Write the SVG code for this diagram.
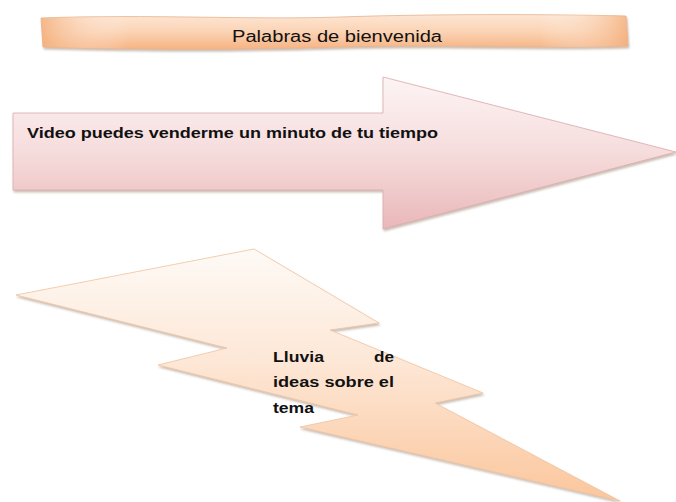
<svg xmlns="http://www.w3.org/2000/svg" width="676" height="502" viewBox="0 0 676 502">
<defs>
<linearGradient id="gBanner" x1="0" y1="0" x2="0" y2="1">
<stop offset="0" stop-color="#fde6d4"/>
<stop offset="0.5" stop-color="#fbd3b4"/>
<stop offset="1" stop-color="#f6b382"/>
</linearGradient>
<linearGradient id="gBannerH" x1="0" y1="0" x2="1" y2="0">
<stop offset="0" stop-color="#f4ad78" stop-opacity="0.8"/>
<stop offset="0.15" stop-color="#ffffff" stop-opacity="0"/>
<stop offset="0.85" stop-color="#ffffff" stop-opacity="0"/>
<stop offset="1" stop-color="#f4ad78" stop-opacity="0.8"/>
</linearGradient>
<linearGradient id="gArrow" x1="0" y1="0" x2="0" y2="1">
<stop offset="0" stop-color="#fdf4f4"/>
<stop offset="0.5" stop-color="#f6dcdc"/>
<stop offset="1" stop-color="#e9b7b9"/>
</linearGradient>
<linearGradient id="gBolt" x1="0" y1="0" x2="0" y2="1">
<stop offset="0" stop-color="#fefaf6"/>
<stop offset="0.45" stop-color="#fde7d6"/>
<stop offset="1" stop-color="#fbc69c"/>
</linearGradient>
<filter id="shadow" x="-10%" y="-10%" width="120%" height="130%">
<feDropShadow dx="1" dy="2" stdDeviation="1" flood-color="#8a6a55" flood-opacity="0.45"/>
</filter>
<style>
.t{font-family:"Liberation Sans",Arial,sans-serif;fill:#111}
.b{font-weight:bold}
</style>
</defs>

<g id="banner">
<path d="M41,18 C150,14 250,20 340,17 S540,14 626,16 L628,46 C540,49 450,44 340,47 S150,50 43,47 Z" fill="url(#gBanner)" stroke="#e7b48e" stroke-width="0.8" filter="url(#shadow)"/>
<path d="M41,18 C150,14 250,20 340,17 S540,14 626,16 L628,46 C540,49 450,44 340,47 S150,50 43,47 Z" fill="url(#gBannerH)"/>
<text class="t" x="232" y="42" font-size="16" textLength="210" lengthAdjust="spacingAndGlyphs">Palabras de bienvenida</text>
</g>

<g id="arrow">
<path d="M13,113 L383,113 L383,77 L676,152 L383,229 L383,190 L13,190 Z" fill="url(#gArrow)" stroke="#dba9ab" stroke-width="0.8" filter="url(#shadow)"/>
<text class="t b" x="27" y="138" font-size="15" textLength="411" lengthAdjust="spacingAndGlyphs">Video puedes venderme un minuto de tu tiempo</text>
</g>

<g id="bolt">
<path d="M16,295 L254,249 L379,323 L330,330 L483,393 L435,403 L620,501 L300,427 L358,415 L158,365 L227,348 Z" fill="url(#gBolt)" stroke="#efc3a0" stroke-width="0.8" filter="url(#shadow)"/>
<text class="t b" font-size="14.5">
<tspan x="273" y="362" textLength="51" lengthAdjust="spacingAndGlyphs">Lluvia</tspan>
<tspan x="374" y="362" textLength="20" lengthAdjust="spacingAndGlyphs">de</tspan>
<tspan x="273" y="387" textLength="121" lengthAdjust="spacingAndGlyphs">ideas sobre el</tspan>
<tspan x="273" y="413" textLength="41" lengthAdjust="spacingAndGlyphs">tema</tspan>
</text>
</g>
</svg>
